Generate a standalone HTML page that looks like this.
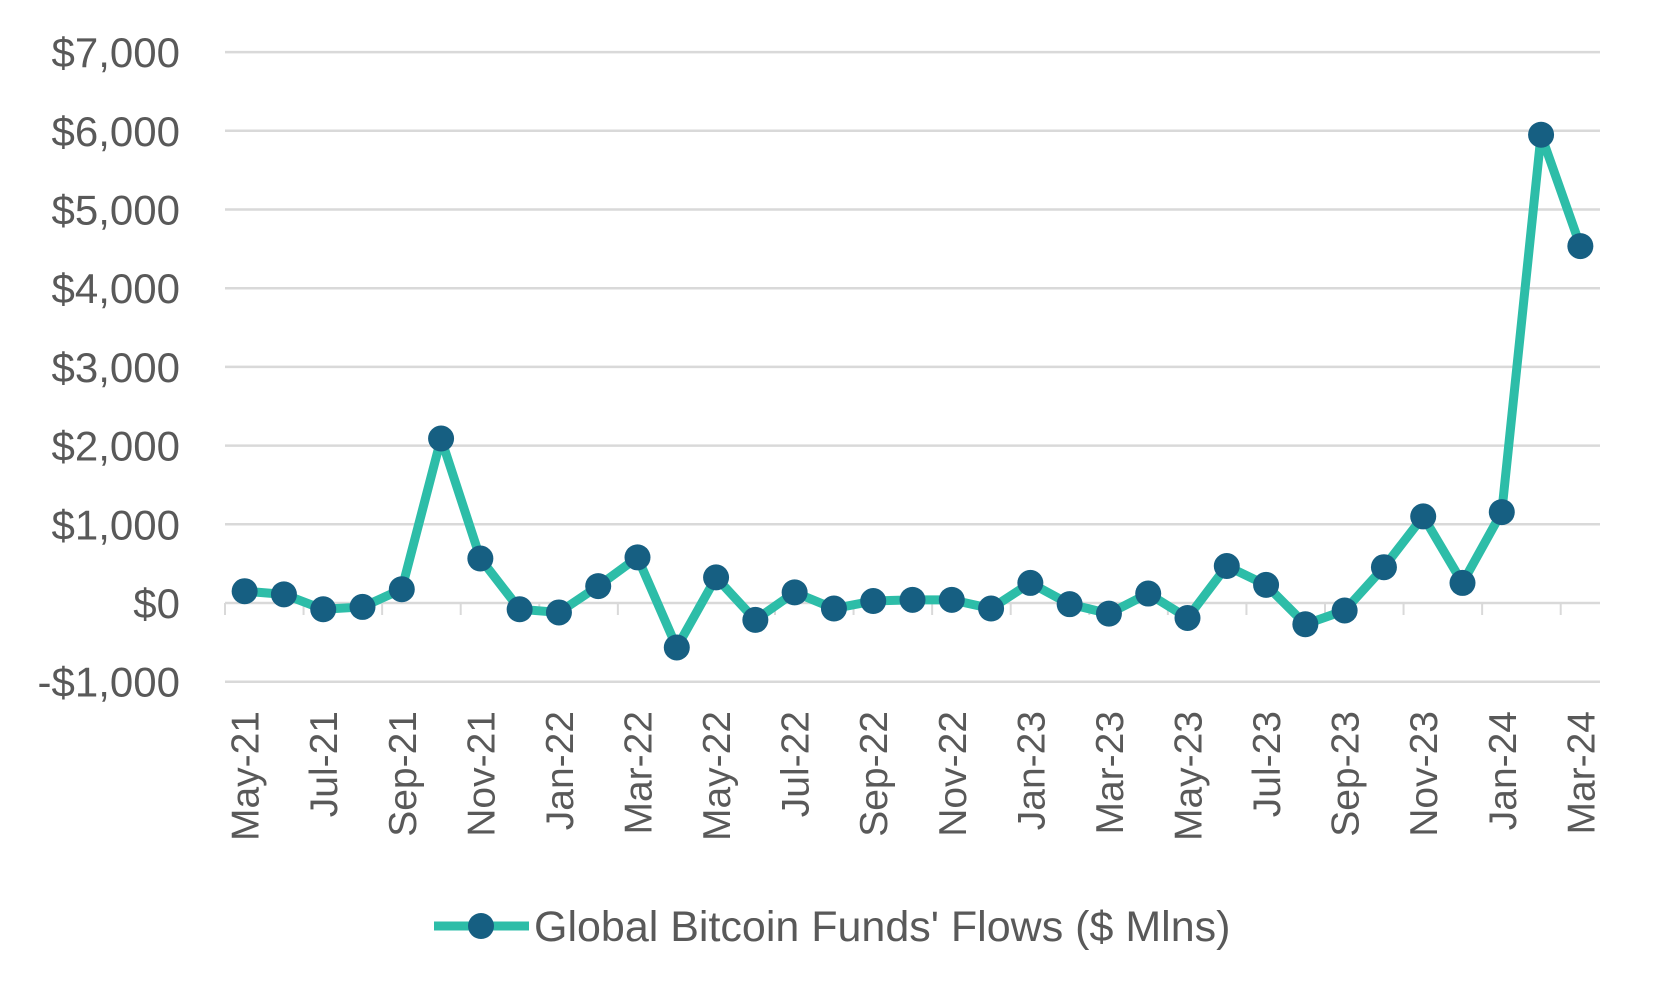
<!DOCTYPE html>
<html><head><meta charset="utf-8"><style>
html,body{margin:0;padding:0;background:#fff;}
svg{display:block;font-family:"Liberation Sans",sans-serif;}
</style></head><body>
<svg id="chart" width="1659" height="999" viewBox="0 0 1659 999" xmlns="http://www.w3.org/2000/svg"></svg>
<script>
const categories=["May-21","Jun-21","Jul-21","Aug-21","Sep-21","Oct-21","Nov-21","Dec-21","Jan-22","Feb-22","Mar-22","Apr-22","May-22","Jun-22","Jul-22","Aug-22","Sep-22","Oct-22","Nov-22","Dec-22","Jan-23","Feb-23","Mar-23","Apr-23","May-23","Jun-23","Jul-23","Aug-23","Sep-23","Oct-23","Nov-23","Dec-23","Jan-24","Feb-24","Mar-24"];
const flows=[150,110,-80,-50,175,2090,565,-80,-120,215,580,-565,325,-215,135,-70,25,40,40,-70,255,-15,-135,120,-190,470,230,-270,-95,455,1100,255,1155,5950,4535];
const yTicks=[-1000,0,1000,2000,3000,4000,5000,6000,7000];
const yTickLabels=["-$1,000","$0","$1,000","$2,000","$3,000","$4,000","$5,000","$6,000","$7,000"];
const seriesName="Global Bitcoin Funds' Flows ($ Mlns)";

const NS="http://www.w3.org/2000/svg";
const svg=document.getElementById('chart');
const L=225,R=1600,Y0=603,PER=78.7;
const step=(R-L)/categories.length;
function x(i){return L+step*(i+0.5);}
function y(v){return Y0-v/1000*PER;}
function mk(t,a,p){const e=document.createElementNS(NS,t);for(const k in a)e.setAttribute(k,a[k]);(p||svg).appendChild(e);return e;}

yTicks.forEach((t,i)=>{
  const g=mk('line',{x1:L,x2:R,y1:y(t),y2:y(t),stroke:'#d9d9d9','stroke-width':2.5});
  
  
  const tx=mk('text',{x:180,y:y(t)+15,'text-anchor':'end','font-size':42,fill:'#595959'});
  tx.textContent=yTickLabels[i];
  
  
});
for(let i=0;i<=categories.length;i+=2){
  const t=mk('line',{x1:L+step*i,x2:L+step*i,y1:Y0,y2:Y0+12,stroke:'#d9d9d9','stroke-width':2});
  
  
}
categories.forEach((c,i)=>{
  if(i%2)return;
  const tx=mk('text',{x:0,y:0,'text-anchor':'end','font-size':39,fill:'#595959',transform:`translate(${x(i)+14},711) rotate(-90)`});
  tx.textContent=c;
  
  
});
const pts=flows.map((v,i)=>x(i)+','+y(v)).join(' ');
const pl=mk('polyline',{points:pts,fill:'none',stroke:'#2dbda8','stroke-width':9,'stroke-linejoin':'round'});


flows.forEach((v,i)=>{
  const c=mk('circle',{cx:x(i),cy:y(v),r:13,fill:'#165f82'});
  
  
});
const lg=mk('g',{});


mk('line',{x1:434,x2:529,y1:926,y2:926,stroke:'#2dbda8','stroke-width':9},lg);
mk('circle',{cx:481,cy:926,r:13,fill:'#165f82'},lg);
const lt=mk('text',{x:534,y:941,'font-size':43,fill:'#595959'},lg);
lt.textContent=seriesName;


</script>
</body></html>
